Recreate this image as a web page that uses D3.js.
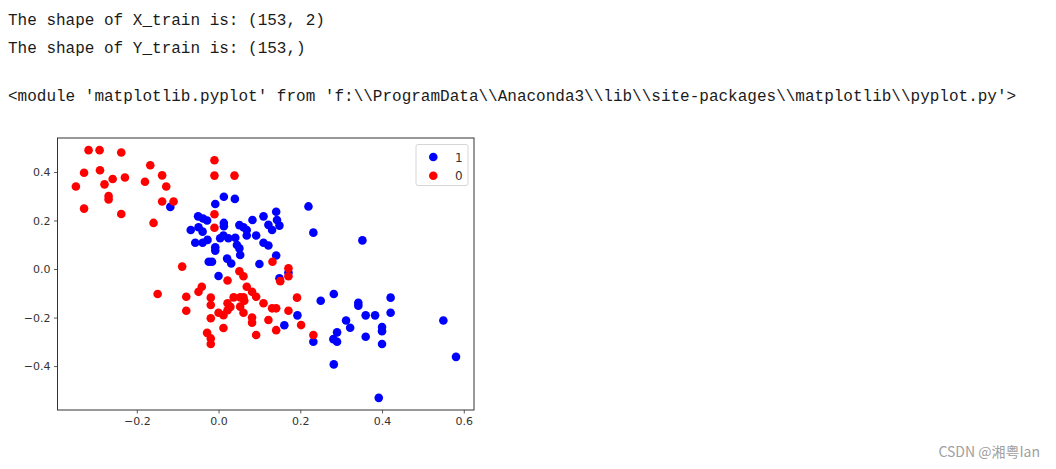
<!DOCTYPE html>
<html lang="en">
<head>
  <meta charset="utf-8">
  <title>Scatter</title>
  <script src="https://d3js.org/d3.v7.min.js"></script>
  <style>
    body { margin: 0; background: #fff; }
  </style>
</head>
<body>
<div id="chart"></div>
<script>

// console output above the figure
var outputLines = [
  "The shape of X_train is: (153, 2)",
  "The shape of Y_train is: (153,)",
  "<module 'matplotlib.pyplot' from 'f:\\\\ProgramData\\\\Anaconda3\\\\lib\\\\site-packages\\\\matplotlib\\\\pyplot.py'>"
];

// class 1 (blue) points
var class1 = [
  [-0.118,0.256],[-0.008,0.268],[0.013,0.298],[0.040,0.289],[-0.050,0.217],[-0.038,0.208],
  [-0.028,0.200],[0.220,0.258],[0.141,0.236],[0.110,0.217],[0.083,0.202],[0.143,0.202],
  [0.013,0.190],[0.013,0.176],[0.051,0.181],[0.061,0.172],[0.122,0.182],[0.149,0.179],
  [0.131,0.161],[0.232,0.150],[-0.068,0.161],[-0.049,0.172],[-0.039,0.154],[0.069,0.161],
  [0.012,0.138],[0.069,0.138],[0.092,0.138],[0.004,0.127],[0.024,0.127],[0.041,0.129],
  [-0.057,0.108],[-0.039,0.108],[-0.027,0.120],[0.110,0.108],[0.122,0.097],[0.045,0.099],
  [0.051,0.085],[-0.008,0.090],[-0.008,0.076],[0.053,0.058],[0.141,0.056],[-0.024,0.030],
  [-0.016,0.030],[0.021,0.043],[0.031,0.023],[0.100,0.021],[0.352,0.118],[0.000,-0.029],
  [0.149,-0.038],[0.171,-0.015],[0.250,-0.131],[0.282,-0.103],[0.342,-0.139],[0.342,-0.151],
  [0.421,-0.118],[0.421,-0.180],[0.360,-0.191],[0.383,-0.191],[0.312,-0.212],[0.322,-0.242],
  [0.400,-0.239],[0.400,-0.256],[0.400,-0.309],[0.360,-0.279],[0.290,-0.261],[0.281,-0.289],
  [0.290,-0.300],[0.232,-0.300],[0.193,-0.191],[0.161,-0.232],[0.282,-0.393],[0.392,-0.531],
  [0.550,-0.212],[0.581,-0.362]
];

// class 0 (red) points
var class0 = [
  [-0.318,0.490],[-0.291,0.490],[-0.238,0.480],[-0.329,0.397],[-0.290,0.407],[-0.349,0.340],
  [-0.279,0.349],[-0.259,0.371],[-0.229,0.377],[-0.269,0.301],[-0.269,0.287],[-0.329,0.249],
  [-0.238,0.227],[-0.167,0.428],[-0.180,0.360],[-0.138,0.386],[-0.128,0.340],[-0.138,0.278],
  [-0.110,0.278],[-0.159,0.190],[-0.089,0.010],[-0.149,-0.103],[-0.079,-0.114],[-0.079,-0.172],
  [-0.010,0.448],[-0.010,0.385],[0.039,0.385],[-0.010,0.226],[-0.010,0.170],[0.132,0.030],
  [0.171,0.003],[0.171,-0.030],[0.151,-0.050],[0.051,-0.009],[0.061,-0.030],[0.022,-0.047],
  [0.069,-0.073],[0.082,-0.094],[0.092,-0.114],[-0.049,-0.094],[-0.041,-0.073],[-0.019,-0.118],
  [-0.019,-0.148],[-0.019,-0.203],[-0.028,-0.263],[-0.019,-0.286],[-0.019,-0.309],[0.012,-0.243],
  [0.000,-0.180],[0.012,-0.190],[0.022,-0.141],[0.029,-0.156],[0.022,-0.170],[0.037,-0.117],
  [0.053,-0.117],[0.061,-0.117],[0.063,-0.131],[0.053,-0.155],[0.061,-0.180],[0.082,-0.200],
  [0.082,-0.221],[0.092,-0.272],[0.110,-0.141],[0.122,-0.210],[0.131,-0.162],[0.141,-0.162],
  [0.141,-0.252],[0.171,-0.172],[0.192,-0.118],[0.202,-0.231],[0.232,-0.272]
];

var xTicks = [-0.2, 0.0, 0.2, 0.4, 0.6];
var yTicks = [-0.4, -0.2, 0.0, 0.2, 0.4];
var legendLabels = ["1", "0"];
var legendColors = ["#0000ff", "#ff0000"];

var W = 1056, H = 469;
var plot = {left: 57.5, right: 474, top: 138, bottom: 410};

var svg = d3.select("#chart")
  .append("svg")
    .attr("width", W)
    .attr("height", H);

// text output lines
var baselines = [25, 53, 101];
svg.selectAll("text.out")
  .data(outputLines)
  .enter()
  .append("text")
    .attr("class", "out")
    .attr("x", 8)
    .attr("y", function(d, i) { return baselines[i]; })
    .style("font-family", "'Liberation Mono', 'DejaVu Sans Mono', monospace")
    .style("font-size", "16px")
    .style("fill", "#1a1a1a")
    .style("white-space", "pre")
    .text(function(d) { return d; });

// scales
var x = d3.scaleLinear()
    .domain([-0.394, 0.625])
    .range([plot.left, plot.right]);
var y = d3.scaleLinear()
    .domain([-0.581, 0.540])
    .range([plot.bottom, plot.top]);

var fmt = function(d) { return d3.format(".1f")(d).replace("-", "\u2212"); };

// axes
var xAxis = svg.append("g")
    .attr("transform", "translate(0," + plot.bottom + ")")
    .call(d3.axisBottom(x).tickValues(xTicks).tickFormat(fmt).tickSizeOuter(0).tickSize(3.5).tickPadding(3.5));
var yAxis = svg.append("g")
    .attr("transform", "translate(" + plot.left + ",0)")
    .call(d3.axisLeft(y).tickValues(yTicks).tickFormat(fmt).tickSizeOuter(0).tickSize(3.5).tickPadding(3.5));

[xAxis, yAxis].forEach(function(a) {
  a.select(".domain").remove();
  a.selectAll("line").style("stroke", "#333").style("stroke-width", 0.8);
  a.selectAll("text")
    .style("font-family", "'DejaVu Sans', sans-serif")
    .style("font-size", "11px")
    .style("fill", "#333");
});

// points: blue first, red on top
svg.append("g").selectAll("circle")
  .data(class1)
  .enter()
  .append("circle")
    .attr("cx", function(d) { return x(d[0]); })
    .attr("cy", function(d) { return y(d[1]); })
    .attr("r", 4.3)
    .style("fill", legendColors[0]);

svg.append("g").selectAll("circle")
  .data(class0)
  .enter()
  .append("circle")
    .attr("cx", function(d) { return x(d[0]); })
    .attr("cy", function(d) { return y(d[1]); })
    .attr("r", 4.3)
    .style("fill", legendColors[1]);

// frame
svg.append("rect")
    .attr("x", plot.left)
    .attr("y", plot.top)
    .attr("width", plot.right - plot.left)
    .attr("height", plot.bottom - plot.top)
    .style("fill", "none")
    .style("stroke", "#333")
    .style("stroke-width", 1);

// legend
var legend = svg.append("g");
legend.append("rect")
    .attr("x", 416)
    .attr("y", 144.5)
    .attr("width", 52)
    .attr("height", 41)
    .attr("rx", 2)
    .style("fill", "#fff")
    .style("fill-opacity", 0.8)
    .style("stroke", "#d6d6d6");
var items = legend.selectAll("g.item")
  .data(legendLabels)
  .enter()
  .append("g")
    .attr("transform", function(d, i) { return "translate(0," + (157 + i * 18.7) + ")"; });
items.append("circle")
    .attr("cx", 433.3)
    .attr("cy", 0)
    .attr("r", 4.3)
    .style("fill", function(d, i) { return legendColors[i]; });
items.append("text")
    .attr("x", 455)
    .attr("y", 4.5)
    .style("font-family", "'DejaVu Sans', sans-serif")
    .style("font-size", "12px")
    .style("fill", "#333")
    .text(function(d) { return d; });

// watermark
svg.append("text")
    .attr("x", 1040)
    .attr("y", 457)
    .attr("text-anchor", "end")
    .style("font-family", "'Noto Sans CJK SC', 'Noto Sans', sans-serif")
    .style("font-size", "14px")
    .style("fill", "#a0a0a0")
    .text("CSDN @湘粤Ian");

</script>
</body>
</html>
